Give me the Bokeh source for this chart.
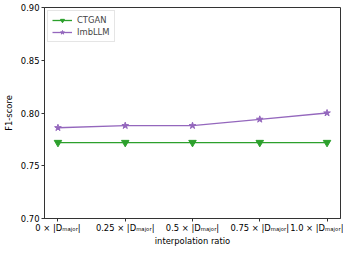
from bokeh.plotting import figure
from bokeh.models import Range1d, FixedTicker, Legend, LegendItem
from bokeh.embed import file_html
from bokeh.resources import INLINE

# data
ratios = [0, 1, 2, 3, 4]
tick_labels = ["0 × |Dₘₐⱼₒᵣ|", "0.25 × |Dₘₐⱼₒᵣ|", "0.5 × |Dₘₐⱼₒᵣ|",
               "0.75 × |Dₘₐⱼₒᵣ|", "1.0 × |Dₘₐⱼₒᵣ|"]
ctgan = [0.772, 0.772, 0.772, 0.772, 0.772]
imbllm = [0.786, 0.788, 0.788, 0.794, 0.800]
y_ticks = [0.70, 0.75, 0.80, 0.85, 0.90]

FONT = "DejaVu Sans"
FS = "8.4px"

p = figure(width=343, height=248, output_backend="svg", toolbar_location=None,
           x_range=Range1d(-0.2, 4.2), y_range=Range1d(0.70, 0.90),
           min_border_top=7, min_border_right=3, min_border_left=2, min_border_bottom=0)

p.xgrid.visible = False
p.ygrid.visible = False
p.outline_line_color = "#333333"
p.outline_line_width = 1
p.background_fill_color = "white"
p.border_fill_color = "white"

for ax in (p.xaxis[0], p.yaxis[0]):
    ax.major_tick_in = 0
    ax.major_tick_out = 3
    ax.minor_tick_line_color = None
    ax.axis_line_color = "#333333"
    ax.major_tick_line_color = "#333333"
    ax.major_label_text_font = FONT
    ax.major_label_text_font_size = FS
    ax.major_label_text_color = "black"
    ax.axis_label_text_font = FONT
    ax.axis_label_text_font_size = FS
    ax.axis_label_text_font_style = "normal"
    ax.axis_label_text_color = "black"

p.yaxis.major_label_standoff = 2
p.yaxis.axis_label_standoff = 4
p.xaxis.major_label_standoff = 1
p.xaxis.axis_label_standoff = 0

p.xaxis.ticker = FixedTicker(ticks=ratios)
p.xaxis.major_label_overrides = {r: lab for r, lab in zip(ratios, tick_labels)}
p.xaxis.axis_label = "interpolation ratio"
p.yaxis.ticker = FixedTicker(ticks=y_ticks)
p.yaxis.major_label_overrides = {t: f"{t:.2f}" for t in y_ticks}
p.yaxis.axis_label = "F1-score"

green = "#2ca02c"
purple = "#9467bd"

l1 = p.line(ratios, ctgan, line_color=green, line_width=1.3)
s1 = p.scatter(ratios, ctgan, marker="inverted_triangle", size=7.5,
               fill_color=green, line_color=green)
l2 = p.line(ratios, imbllm, line_color=purple, line_width=1.3)
s2 = p.scatter(ratios, imbllm, marker="star", size=7,
               fill_color=purple, line_color=purple)

legend = Legend(items=[LegendItem(label="CTGAN", renderers=[l1, s1]),
                       LegendItem(label="ImbLLM", renderers=[l2, s2])],
                location="top_left")
legend.label_text_font = FONT
legend.label_text_font_size = FS
legend.label_height = 10
legend.glyph_height = 10
legend.glyph_width = 20
legend.spacing = 2
legend.padding = 4
legend.margin = 3
legend.border_line_color = "#cccccc"
legend.border_line_width = 1
legend.label_standoff = 5
p.add_layout(legend)

open("out.html", "w").write(file_html(p, INLINE))
